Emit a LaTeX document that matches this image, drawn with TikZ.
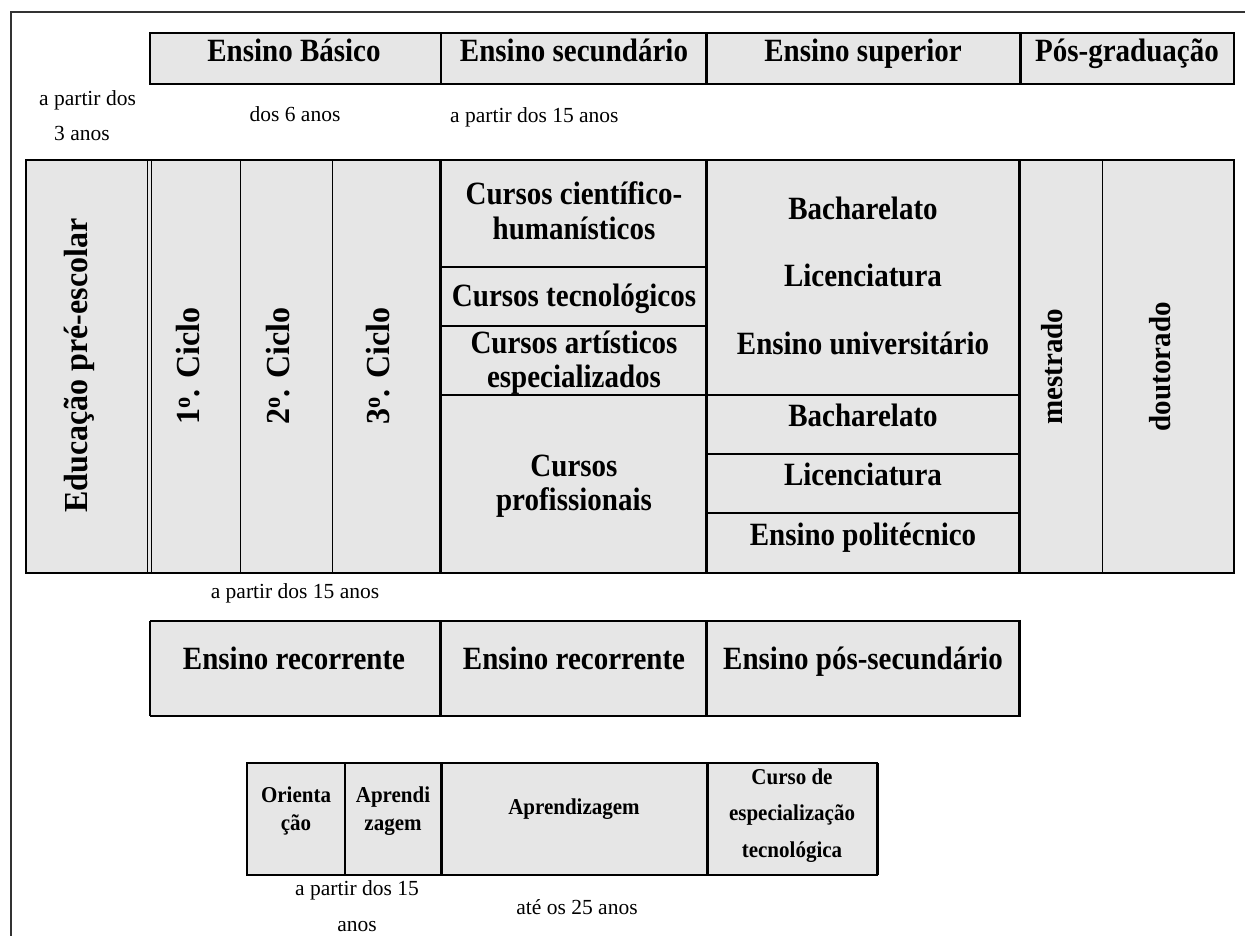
\documentclass[tikz,border=0pt]{standalone}
\usepackage{graphicx}
\usepackage{fontspec}
\setmainfont{Liberation Serif}
\definecolor{cellgray}{HTML}{E6E6E6}
\newcommand{\tallB}[1]{\scalebox{1}[1.12]{#1}}
\newcommand{\tallS}[1]{\scalebox{1}[1.08]{#1}}
\newcommand{\tallV}[1]{\scalebox{1}[1.05]{#1}}
\begin{document}
\begin{tikzpicture}[x=1pt,y=-1pt,
  hdr/.style={font=\fontsize{29}{34}\selectfont\bfseries, anchor=base, inner sep=0pt},
  vtxt/.style={font=\fontsize{32}{36}\selectfont\bfseries, rotate=90, anchor=center, inner sep=0pt},
  vtxtb/.style={font=\fontsize{29}{34}\selectfont\bfseries, rotate=90, anchor=center, inner sep=0pt},
  smallb/.style={font=\fontsize{21}{25}\selectfont\bfseries, anchor=base, inner sep=0pt},
  note/.style={font=\fontsize{21.5}{25}\selectfont, anchor=base, inner sep=0pt},
  thick line/.style={line width=3pt},
  mid line/.style={line width=2.2pt},
  thin line/.style={line width=1.4pt},
  dbl line/.style={line width=1.1pt}]
\useasboundingbox (0,0) rectangle (1245,936);
\clip (0,0) rectangle (1245,936);
% outer frame
\draw[line width=2pt, black!80] (11,12) rectangle (1265,960);
% ---------- header row ----------
\fill[cellgray] (150,33) rectangle (1234,84);
\draw[mid line] (150,33) rectangle (1234,84);
\draw[mid line] (440.7,33) -- (440.7,84);
\draw[thick line] (706.7,33) -- (706.7,84);
\draw[thick line] (1020,33) -- (1020,84);
\node[hdr] (hbas) at (294,62) {\tallB{Ensino Básico}};
\node[hdr] (hsec) at (574,62) {\tallB{Ensino secundário}};
\node[hdr] (hsup) at (863,62) {\tallB{Ensino superior}};
\node[hdr] (hpos) at (1127,62) {\tallB{Pós-graduação}};
% notes above main table
\node[note] (n3a) at (87.5,106) {a partir dos};
\node[note] (n3b) at (82,141) {3 anos};
\node[note] (n6) at (295,122) {dos 6 anos};
\node[note, anchor=base west] (n15) at (450,123) {a partir dos 15 anos};
% ---------- main table ----------
\fill[cellgray] (25.7,160) rectangle (1234,573);
\draw[mid line] (25.7,160) rectangle (1234,573);
\draw[dbl line] (147.7,160) -- (147.7,573);
\draw[dbl line] (151.2,160) -- (151.2,573);
\draw[thin line] (240.7,160) -- (240.7,573);
\draw[thin line] (332.7,160) -- (332.7,573);
\draw[thick line] (440.7,160) -- (440.7,573);
\draw[thick line] (706.7,160) -- (706.7,573);
\draw[thick line] (1019.3,160) -- (1019.3,573);
\draw[thin line] (1102.7,160) -- (1102.7,573);
\draw[mid line] (440.7,266.7) -- (706.7,266.7);
\draw[mid line] (440.7,325.7) -- (706.7,325.7);
\draw[mid line] (440.7,395) -- (706.7,395);
\draw[mid line] (706.7,395) -- (1019.3,395);
\draw[mid line] (706.7,454.3) -- (1019.3,454.3);
\draw[mid line] (706.7,513.3) -- (1019.3,513.3);
\node[vtxt] (pre) at (79,365.5) {\tallV{Educação pré-escolar}};
\node[vtxt] (c1) at (188,366) {\tallV{1\textsuperscript{o}. Ciclo}};
\node[vtxt] (c2) at (278,366) {\tallV{2\textsuperscript{o}. Ciclo}};
\node[vtxt] (c3) at (378,366) {\tallV{3\textsuperscript{o}. Ciclo}};
\node[vtxtb] (mes) at (1051.7,366.7) {\tallV{mestrado}};
\node[vtxtb] (dou) at (1160,366.7) {\tallV{doutorado}};
\node[hdr] (s1a) at (574,205) {\tallB{Cursos científico-}};
\node[hdr] (s1b) at (574,240) {\tallB{humanísticos}};
\node[hdr] (s2) at (574,306.7) {\tallB{Cursos tecnológicos}};
\node[hdr] (s3a) at (574,353) {\tallB{Cursos artísticos}};
\node[hdr] (s3b) at (574,387.3) {\tallB{especializados}};
\node[hdr] (s4a) at (574,476.7) {\tallB{Cursos}};
\node[hdr] (s4b) at (574,510.7) {\tallB{profissionais}};
\node[hdr] (u1) at (863,220) {\tallB{Bacharelato}};
\node[hdr] (u2) at (863,286.7) {\tallB{Licenciatura}};
\node[hdr] (u3) at (863,354) {\tallB{Ensino universitário}};
\node[hdr] (p1) at (863,426.7) {\tallB{Bacharelato}};
\node[hdr] (p2) at (863,485) {\tallB{Licenciatura}};
\node[hdr] (p3) at (863,545) {\tallB{Ensino politécnico}};
\node[note] (n15b) at (295,598) {a partir dos 15 anos};
% ---------- second row ----------
\fill[cellgray] (150,621) rectangle (1019.3,716);
\draw[thin line] (150,621) -- (150,716);
\draw[mid line] (150,621) -- (1019.3,621);
\draw[mid line] (150,716) -- (1019.3,716);
\draw[thick line] (440.7,621) -- (440.7,716);
\draw[thick line] (706.7,621) -- (706.7,716);
\draw[thick line] (1019.3,619.9) -- (1019.3,717.1);
\node[hdr] (r1) at (294,669) {\tallB{Ensino recorrente}};
\node[hdr] (r2) at (574,669) {\tallB{Ensino recorrente}};
\node[hdr] (r3) at (863,669) {\tallB{Ensino pós-secundário}};
% ---------- third row ----------
\fill[cellgray] (247,763) rectangle (877,875);
\draw[mid line] (247,763) rectangle (877,875);
\draw[thin line] (345,763) -- (345,875);
\draw[thick line] (441,763) -- (441,875);
\draw[thick line] (707,763) -- (707,875);
\draw[thick line] (877,763) -- (877,875);
\node[smallb] (o1) at (296,802) {\tallS{Orienta}};
\node[smallb] (o2) at (296,830) {\tallS{ção}};
\node[smallb] (a1) at (393,802) {\tallS{Aprendi}};
\node[smallb] (a2) at (393,830) {\tallS{zagem}};
\node[smallb] (ap) at (574,814) {\tallS{Aprendizagem}};
\node[smallb] (e1) at (792,784) {\tallS{Curso de}};
\node[smallb] (e2) at (792,820) {\tallS{especialização}};
\node[smallb] (e3) at (792,857) {\tallS{tecnológica}};
\node[note] (b1) at (357,895) {a partir dos 15};
\node[note] (b2) at (357,931) {anos};
\node[note] (b3) at (577,914) {até os 25 anos};
\end{tikzpicture}
\end{document}
